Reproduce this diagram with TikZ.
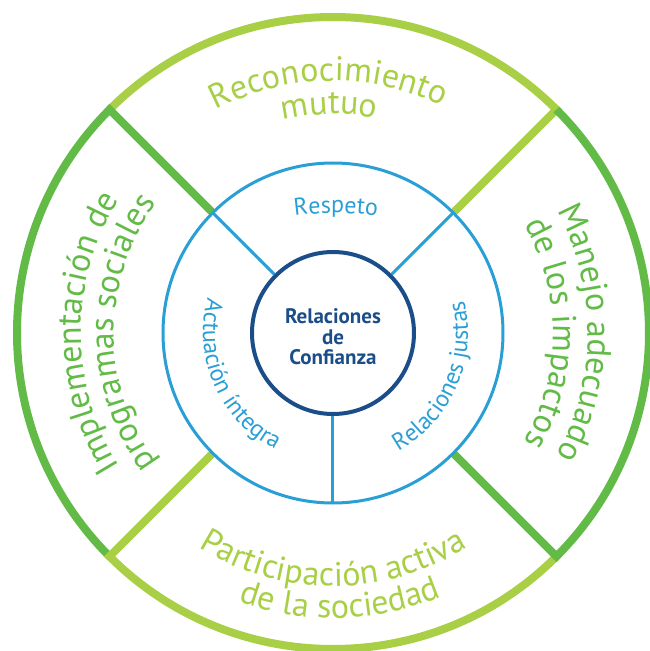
\documentclass[tikz,border=0pt]{standalone}
\usepackage{fontspec}
\setmainfont{PT Sans}
\usetikzlibrary{decorations.text}
\definecolor{lgreen}{HTML}{A8CF45}
\definecolor{dgreen}{HTML}{62BB46}
\definecolor{ringblue}{HTML}{2A9FD6}
\definecolor{coreblue}{HTML}{1B4D89}
\tikzset{
  quarter/.style={line width=8pt, line join=miter},
  bluering/.style={ringblue, line width=3pt},
  core/.style={circle, draw=coreblue, line width=4pt, minimum size=162pt, inner sep=0pt},
  corelabel/.style={align=center, text=coreblue, font=\bfseries\fontsize{21}{20.5}\selectfont},
  outertext/.style 2 args={decorate, decoration={text along path, text align=center,
    text color=#1, text={|\fontsize{34}{34}\selectfont|#2}}},
  innertext/.style={decorate, decoration={text along path, text align=center,
    text color=ringblue, text={|\fontsize{24}{24}\selectfont|#1}}},
}

\begin{document}
\begin{tikzpicture}[x=1pt, y=1pt]
  \useasboundingbox (-333,-318) rectangle (316,333);
  \foreach \a/\c in {45/lgreen, 135/dgreen, 225/lgreen, 315/dgreen}
    \draw[quarter, \c] (\a:170) -- (\a:316) arc[start angle=\a, end angle=\a+90, radius=316];
  \draw[bluering] (0,0) circle[radius=170];
  \node[core] (core) at (0,0) {};
  \node[corelabel] (trust) at (0,-4) {Relaciones\\de\\Confianza};
  \foreach \a in {45,135,270} {
    \coordinate (ring\a) at (\a:170);
    \draw[bluering] (core.\a) -- (ring\a);
  }
  % outer ring labels
  \path[outertext={lgreen}{Reconocimiento}] (151:252) arc[start angle=151, end angle=31, radius=252];
  \path[outertext={lgreen}{mutuo}] (151:219) arc[start angle=151, end angle=31, radius=219];
  \path[outertext={dgreen}{Implementación de}] (240:252) arc[start angle=240, end angle=120, radius=252];
  \path[outertext={dgreen}{programas sociales}] (240:219) arc[start angle=240, end angle=120, radius=219];
  \path[outertext={dgreen}{Manejo adecuado}] (60:255) arc[start angle=60, end angle=-60, radius=255];
  \path[outertext={dgreen}{de los impactos}] (60:220) arc[start angle=60, end angle=-60, radius=220];
  \path[outertext={lgreen}{Participación activa}] (210:253) arc[start angle=210, end angle=330, radius=253];
  \path[outertext={lgreen}{de la sociedad}] (211.5:285) arc[start angle=211.5, end angle=331.5, radius=285];
  % inner ring labels
  \path[innertext={Respeto}] ([shift={(3,-180)}]110:300) arc[start angle=110, end angle=70, radius=300];
  \path[innertext={Actuación íntegra}] (150:130) arc[start angle=150, end angle=258, radius=130];
  \path[innertext={Relaciones justas}] (282.5:135) arc[start angle=282.5, end angle=390.5, radius=135];
\end{tikzpicture}
\end{document}
